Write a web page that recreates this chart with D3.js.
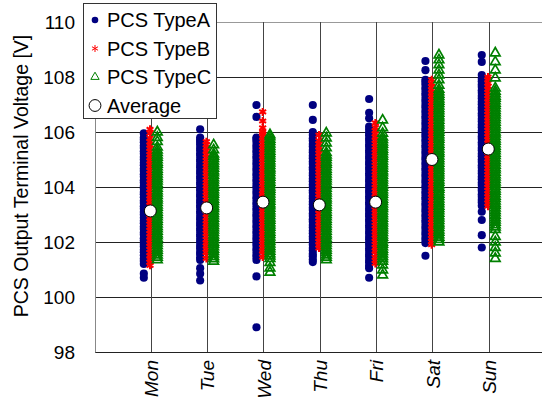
<!DOCTYPE html>
<html>
<head>
<meta charset="utf-8">
<script src="https://cdn.jsdelivr.net/npm/d3@7"></script>
<style>
  html, body { margin: 0; padding: 0; background: #fff; }
  svg { display: block; font-family: "Liberation Sans", Arial, sans-serif; }
</style>
</head>
<body>
<script>
const width = 542;
const height = 398;

const days = ['Mon', 'Tue', 'Wed', 'Thu', 'Fri', 'Sat', 'Sun'];
const yTicks = [98, 100, 102, 104, 106, 108, 110];

// PCS TypeA (one list per day)
const typeA = [
  [100.7, 100.85, 101.2, 101.31, 101.4, 101.52, 101.63, 101.72, 101.84, 101.93, 102.05, 102.14, 102.26, 102.35, 102.47, 102.56, 102.68, 102.77, 102.88, 103.0, 103.09, 103.21, 103.3, 103.42, 103.51, 103.63, 103.74, 103.82, 103.95, 104.04, 104.16, 104.25, 104.37, 104.46, 104.58, 104.67, 104.79, 104.88, 105.0, 105.09, 105.21, 105.3, 105.42, 105.51, 105.63, 105.72, 105.8, 105.95],
  [100.6, 100.85, 101.05, 101.35, 101.44, 101.56, 101.65, 101.77, 101.86, 101.98, 102.07, 102.19, 102.28, 102.4, 102.49, 102.61, 102.7, 102.82, 102.91, 103.03, 103.12, 103.24, 103.33, 103.45, 103.54, 103.66, 103.75, 103.87, 103.96, 104.08, 104.17, 104.29, 104.38, 104.5, 104.59, 104.71, 104.8, 104.92, 105.01, 105.13, 105.22, 105.34, 105.43, 105.55, 105.64, 105.72, 105.8, 106.1],
  [98.9, 100.75, 101.35, 101.46, 101.55, 101.67, 101.76, 101.88, 101.97, 102.09, 102.18, 102.3, 102.39, 102.51, 102.6, 102.72, 102.81, 102.93, 103.02, 103.14, 103.23, 103.35, 103.44, 103.56, 103.65, 103.77, 103.86, 103.98, 104.07, 104.19, 104.28, 104.4, 104.49, 104.61, 104.7, 104.82, 104.91, 105.03, 105.12, 105.24, 105.33, 105.45, 105.54, 105.66, 105.75, 105.8, 106.55, 106.98],
  [101.27, 101.36, 101.48, 101.57, 101.69, 101.78, 101.9, 101.99, 102.11, 102.2, 102.32, 102.41, 102.53, 102.62, 102.74, 102.83, 102.95, 103.04, 103.16, 103.25, 103.37, 103.46, 103.58, 103.67, 103.79, 103.88, 104.0, 104.09, 104.21, 104.3, 104.42, 104.51, 104.63, 104.72, 104.84, 104.93, 105.05, 105.14, 105.26, 105.35, 105.47, 105.56, 105.68, 105.77, 105.89, 106.0, 106.44, 106.98],
  [100.7, 101.05, 101.14, 101.26, 101.35, 101.47, 101.56, 101.68, 101.77, 101.89, 101.98, 102.1, 102.19, 102.31, 102.4, 102.52, 102.61, 102.73, 102.82, 102.94, 103.03, 103.15, 103.24, 103.36, 103.45, 103.57, 103.66, 103.78, 103.87, 103.99, 104.08, 104.2, 104.29, 104.41, 104.5, 104.62, 104.71, 104.83, 104.92, 105.04, 105.13, 105.25, 105.34, 105.46, 105.55, 105.67, 105.76, 105.88, 105.97, 106.09, 106.2, 106.5, 106.7, 107.2],
  [101.5, 101.96, 102.07, 102.16, 102.28, 102.37, 102.49, 102.58, 102.7, 102.79, 102.91, 103.0, 103.12, 103.21, 103.33, 103.42, 103.54, 103.63, 103.75, 103.84, 103.96, 104.05, 104.17, 104.26, 104.38, 104.47, 104.59, 104.68, 104.8, 104.89, 105.01, 105.1, 105.22, 105.31, 105.43, 105.52, 105.64, 105.73, 105.85, 105.94, 106.06, 106.15, 106.27, 106.36, 106.48, 106.57, 106.69, 106.78, 106.9, 106.99, 107.11, 107.2, 107.32, 107.41, 107.53, 107.62, 107.74, 107.83, 107.9, 108.25, 108.58],
  [101.8, 102.25, 102.8, 103.1, 103.32, 103.44, 103.53, 103.65, 103.74, 103.86, 103.95, 104.07, 104.16, 104.28, 104.37, 104.49, 104.58, 104.7, 104.79, 104.91, 105.0, 105.12, 105.21, 105.33, 105.42, 105.54, 105.63, 105.75, 105.84, 105.96, 106.05, 106.17, 106.26, 106.38, 106.47, 106.59, 106.68, 106.8, 106.89, 107.01, 107.1, 107.22, 107.31, 107.43, 107.52, 107.64, 107.73, 107.85, 107.94, 108.07, 108.55, 108.8]
];

// PCS TypeB
const typeB = [
  [101.15, 101.27, 101.38, 101.5, 101.61, 101.73, 101.84, 101.96, 102.07, 102.19, 102.3, 102.42, 102.53, 102.65, 102.76, 102.88, 102.99, 103.11, 103.22, 103.34, 103.45, 103.57, 103.68, 103.8, 103.91, 104.03, 104.14, 104.26, 104.37, 104.49, 104.6, 104.72, 104.83, 104.95, 105.06, 105.18, 105.29, 105.41, 105.52, 105.64, 105.78, 105.96, 106.1],
  [101.4, 101.51, 101.63, 101.74, 101.86, 101.97, 102.09, 102.2, 102.32, 102.43, 102.55, 102.66, 102.78, 102.89, 103.01, 103.12, 103.24, 103.35, 103.47, 103.58, 103.7, 103.81, 103.93, 104.04, 104.16, 104.27, 104.39, 104.5, 104.62, 104.73, 104.85, 104.96, 105.08, 105.19, 105.31, 105.42, 105.54, 105.65],
  [101.45, 101.56, 101.68, 101.79, 101.91, 102.02, 102.14, 102.25, 102.37, 102.48, 102.6, 102.71, 102.83, 102.94, 103.06, 103.17, 103.29, 103.4, 103.52, 103.63, 103.75, 103.86, 103.98, 104.09, 104.21, 104.32, 104.44, 104.55, 104.67, 104.78, 104.9, 105.01, 105.13, 105.24, 105.36, 105.47, 105.59, 105.7, 105.82, 105.93, 106.0, 106.15, 106.4, 106.73],
  [101.78, 101.89, 102.01, 102.12, 102.24, 102.35, 102.47, 102.58, 102.7, 102.81, 102.93, 103.04, 103.16, 103.27, 103.39, 103.5, 103.62, 103.73, 103.85, 103.96, 104.08, 104.19, 104.31, 104.42, 104.54, 104.65, 104.77, 104.88, 105.0, 105.11, 105.23, 105.34, 105.46, 105.57, 105.69, 105.89],
  [101.22, 101.33, 101.45, 101.56, 101.68, 101.79, 101.91, 102.02, 102.14, 102.25, 102.37, 102.48, 102.6, 102.71, 102.83, 102.94, 103.06, 103.17, 103.29, 103.4, 103.52, 103.63, 103.75, 103.86, 103.98, 104.09, 104.21, 104.32, 104.44, 104.55, 104.67, 104.78, 104.9, 105.01, 105.13, 105.24, 105.36, 105.47, 105.59, 105.7, 105.82, 105.93, 106.05, 106.16, 106.33],
  [101.9, 102.01, 102.13, 102.24, 102.36, 102.47, 102.59, 102.7, 102.82, 102.93, 103.05, 103.16, 103.28, 103.39, 103.51, 103.62, 103.74, 103.85, 103.97, 104.08, 104.2, 104.31, 104.43, 104.54, 104.66, 104.77, 104.89, 105.0, 105.12, 105.23, 105.35, 105.46, 105.58, 105.69, 105.81, 105.92, 106.04, 106.15, 106.27, 106.38, 106.5, 106.61, 106.73, 106.84, 106.96, 107.07, 107.19, 107.3, 107.42, 107.53, 107.65, 107.76, 107.9],
  [103.3, 103.41, 103.53, 103.64, 103.76, 103.87, 103.99, 104.1, 104.22, 104.33, 104.45, 104.56, 104.68, 104.79, 104.91, 105.02, 105.14, 105.25, 105.37, 105.48, 105.6, 105.71, 105.83, 105.94, 106.06, 106.17, 106.29, 106.4, 106.52, 106.63, 106.75, 106.86, 106.98, 107.09, 107.21, 107.32, 107.44, 107.55, 107.67, 107.78, 107.9, 108.0]
];

// PCS TypeC
const typeC = [
  [101.35, 101.44, 101.52, 101.61, 101.7, 101.78, 101.87, 101.96, 102.04, 102.13, 102.22, 102.3, 102.39, 102.48, 102.56, 102.65, 102.74, 102.82, 102.91, 103.0, 103.08, 103.17, 103.26, 103.34, 103.43, 103.52, 103.6, 103.69, 103.78, 103.86, 103.95, 104.04, 104.12, 104.21, 104.3, 104.38, 104.47, 104.56, 104.64, 104.73, 104.82, 104.9, 104.99, 105.08, 105.16, 105.25, 105.34, 105.45, 105.65, 105.8, 106.0],
  [101.3, 101.39, 101.47, 101.56, 101.65, 101.73, 101.82, 101.91, 101.99, 102.08, 102.17, 102.25, 102.34, 102.43, 102.51, 102.6, 102.69, 102.77, 102.86, 102.95, 103.03, 103.12, 103.21, 103.29, 103.38, 103.47, 103.55, 103.64, 103.73, 103.81, 103.9, 103.99, 104.07, 104.16, 104.25, 104.33, 104.42, 104.51, 104.59, 104.68, 104.77, 104.85, 104.94, 105.03, 105.11, 105.2, 105.35, 105.53],
  [100.9, 101.05, 101.25, 101.4, 101.49, 101.57, 101.66, 101.75, 101.83, 101.92, 102.01, 102.09, 102.18, 102.27, 102.35, 102.44, 102.53, 102.61, 102.7, 102.79, 102.87, 102.96, 103.05, 103.13, 103.22, 103.31, 103.39, 103.48, 103.57, 103.65, 103.74, 103.83, 103.91, 104.0, 104.09, 104.17, 104.26, 104.35, 104.43, 104.52, 104.61, 104.69, 104.78, 104.87, 104.95, 105.04, 105.13, 105.21, 105.3, 105.39, 105.47, 105.56, 105.65, 105.73, 105.82, 105.9],
  [101.35, 101.44, 101.52, 101.61, 101.7, 101.78, 101.87, 101.96, 102.04, 102.13, 102.22, 102.3, 102.39, 102.48, 102.56, 102.65, 102.74, 102.82, 102.91, 103.0, 103.08, 103.17, 103.26, 103.34, 103.43, 103.52, 103.6, 103.69, 103.78, 103.86, 103.95, 104.04, 104.12, 104.21, 104.3, 104.38, 104.47, 104.56, 104.64, 104.73, 104.82, 104.9, 104.99, 105.08, 105.16, 105.25, 105.42, 105.6, 105.78, 105.96],
  [100.8, 100.98, 101.16, 101.3, 101.39, 101.47, 101.56, 101.65, 101.73, 101.82, 101.91, 101.99, 102.08, 102.17, 102.25, 102.34, 102.43, 102.51, 102.6, 102.69, 102.77, 102.86, 102.95, 103.03, 103.12, 103.21, 103.29, 103.38, 103.47, 103.55, 103.64, 103.73, 103.81, 103.9, 103.99, 104.07, 104.16, 104.25, 104.33, 104.42, 104.51, 104.59, 104.68, 104.77, 104.85, 104.94, 105.03, 105.11, 105.2, 105.29, 105.37, 105.46, 105.55, 105.63, 105.72, 105.81, 105.95, 106.15, 106.43],
  [102.0, 102.09, 102.17, 102.26, 102.35, 102.43, 102.52, 102.61, 102.69, 102.78, 102.87, 102.95, 103.04, 103.13, 103.21, 103.3, 103.39, 103.47, 103.56, 103.65, 103.73, 103.82, 103.91, 103.99, 104.08, 104.17, 104.25, 104.34, 104.43, 104.51, 104.6, 104.69, 104.77, 104.86, 104.95, 105.03, 105.12, 105.21, 105.29, 105.38, 105.47, 105.55, 105.64, 105.73, 105.81, 105.9, 105.99, 106.07, 106.16, 106.25, 106.33, 106.42, 106.51, 106.59, 106.68, 106.77, 106.85, 106.94, 107.03, 107.11, 107.2, 107.29, 107.37, 107.46, 107.55, 107.7, 107.9, 108.07, 108.25, 108.44, 108.62, 108.8],
  [101.4, 101.6, 101.8, 102.0, 102.2, 102.45, 102.54, 102.62, 102.71, 102.8, 102.88, 102.97, 103.06, 103.14, 103.23, 103.32, 103.4, 103.49, 103.58, 103.66, 103.75, 103.84, 103.92, 104.01, 104.1, 104.18, 104.27, 104.36, 104.44, 104.53, 104.62, 104.7, 104.79, 104.88, 104.96, 105.05, 105.14, 105.22, 105.31, 105.4, 105.48, 105.57, 105.66, 105.74, 105.83, 105.92, 106.0, 106.09, 106.18, 106.26, 106.35, 106.44, 106.52, 106.61, 106.7, 106.78, 106.87, 106.96, 107.04, 107.13, 107.22, 107.3, 107.39, 107.48, 107.6, 107.96, 108.25, 108.55, 108.87]
];

const average = [103.13, 103.24, 103.45, 103.35, 103.45, 105.0, 105.38];

const seriesNames = ['PCS TypeA', 'PCS TypeB', 'PCS TypeC', 'Average'];

const margin = { top: 22, left: 95, bottom: 46 };

const svg = d3.select('body').append('svg')
  .attr('width', width)
  .attr('height', height);

// x: day index 1..7 inside a 0..8 span (right edge falls just past the window)
const x = d3.scaleLinear().domain([0, 8]).range([margin.left, 545.6]);
const y = d3.scaleLinear().domain([98, 110]).range([height - margin.bottom, margin.top]);

// grid
svg.append('g')
  .selectAll('line')
  .data(yTicks)
  .join('line')
  .attr('x1', x(0)).attr('x2', x(8))
  .attr('y1', d => y(d)).attr('y2', d => y(d))
  .attr('stroke', d => d === 110 ? '#999' : '#222')
  .attr('stroke-width', 1)
  .attr('shape-rendering', 'crispEdges');

svg.append('g')
  .selectAll('line')
  .data(days)
  .join('line')
  .attr('x1', (d, i) => x(i + 1)).attr('x2', (d, i) => x(i + 1))
  .attr('y1', y(110)).attr('y2', y(98))
  .attr('stroke', '#444')
  .attr('shape-rendering', 'crispEdges');

// y axis
const yAxis = svg.append('g')
  .attr('transform', `translate(${x(0)},0)`)
  .call(d3.axisLeft(y).tickValues(yTicks).tickSize(0).tickPadding(20).tickFormat(d3.format('d')));
yAxis.select('.domain').attr('stroke', '#888');
yAxis.selectAll('text')
  .attr('font-size', 19)
  .attr('font-family', '"Liberation Sans", Arial, sans-serif')
  .attr('fill', '#000');

// x axis labels
svg.append('g')
  .selectAll('text')
  .data(days)
  .join('text')
  .attr('transform', (d, i) => `translate(${x(i + 1)},${y(98) + 8}) rotate(-90)`)
  .attr('text-anchor', 'end')
  .attr('dy', '0.35em')
  .attr('font-size', 19)
  .attr('font-style', 'italic')
  .text(d => d);

// y title
svg.append('text')
  .attr('transform', 'translate(21,176) rotate(-90)')
  .attr('text-anchor', 'middle')
  .attr('dy', '0.35em')
  .attr('font-size', 19.5)
  .text('PCS Output Terminal Voltage [V]');

// markers
const circleA = d3.symbol().type(d3.symbolCircle).size(52);
const triC = d3.symbol().type(d3.symbolTriangle).size(40);
const star = d3.symbol().type(d3.symbolAsterisk).size(44);

const offA = -7.5, offB = -1.3, offC = 6, offAvg = -1;

days.forEach((day, i) => {
  const gx = x(i + 1);
  svg.append('g')
    .selectAll('path')
    .data(typeA[i])
    .join('path')
    .attr('d', circleA)
    .attr('transform', v => `translate(${gx + offA},${y(v)})`)
    .attr('fill', '#000080');
});

days.forEach((day, i) => {
  const gx = x(i + 1);
  svg.append('g')
    .selectAll('path')
    .data(typeB[i])
    .join('path')
    .attr('d', star)
    .attr('transform', v => `translate(${gx + offB},${y(v)})`)
    .attr('fill', 'none')
    .attr('stroke', '#ff0000')
    .attr('stroke-width', 2);
});

days.forEach((day, i) => {
  const gx = x(i + 1);
  svg.append('g')
    .selectAll('path')
    .data(typeC[i])
    .join('path')
    .attr('d', triC)
    .attr('transform', v => `translate(${gx + offC},${y(v)})`)
    .attr('fill', 'none')
    .attr('stroke', '#008000')
    .attr('stroke-width', 1.7);
});

svg.append('g')
  .selectAll('circle')
  .data(average)
  .join('circle')
  .attr('cx', (d, i) => x(i + 1) + offAvg)
  .attr('cy', d => y(d))
  .attr('r', 6)
  .attr('fill', '#fff')
  .attr('stroke', '#000')
  .attr('stroke-width', 1);

// legend
const legend = svg.append('g').attr('transform', 'translate(83,3)');
legend.append('rect')
  .attr('width', 133).attr('height', 115)
  .attr('fill', '#fff')
  .attr('stroke', '#333')
  .attr('shape-rendering', 'crispEdges');

const rows = legend.selectAll('g')
  .data(seriesNames)
  .join('g')
  .attr('transform', (d, i) => `translate(0,${17 + i * 28.5})`);

rows.append('path')
  .attr('transform', 'translate(12,0)')
  .attr('d', (d, i) => [d3.symbol().type(d3.symbolCircle).size(34)(),
    d3.symbol().type(d3.symbolAsterisk).size(34)(),
    d3.symbol().type(d3.symbolTriangle).size(30)(),
    d3.symbol().type(d3.symbolCircle).size(110)()][i])
  .attr('fill', (d, i) => ['#000080', 'none', 'none', '#fff'][i])
  .attr('stroke', (d, i) => ['none', '#ff0000', '#008000', '#000'][i]);

rows.append('text')
  .attr('x', 24)
  .attr('dy', '0.35em')
  .attr('font-size', 20)
  .text(d => d);
</script>
</body>
</html>
